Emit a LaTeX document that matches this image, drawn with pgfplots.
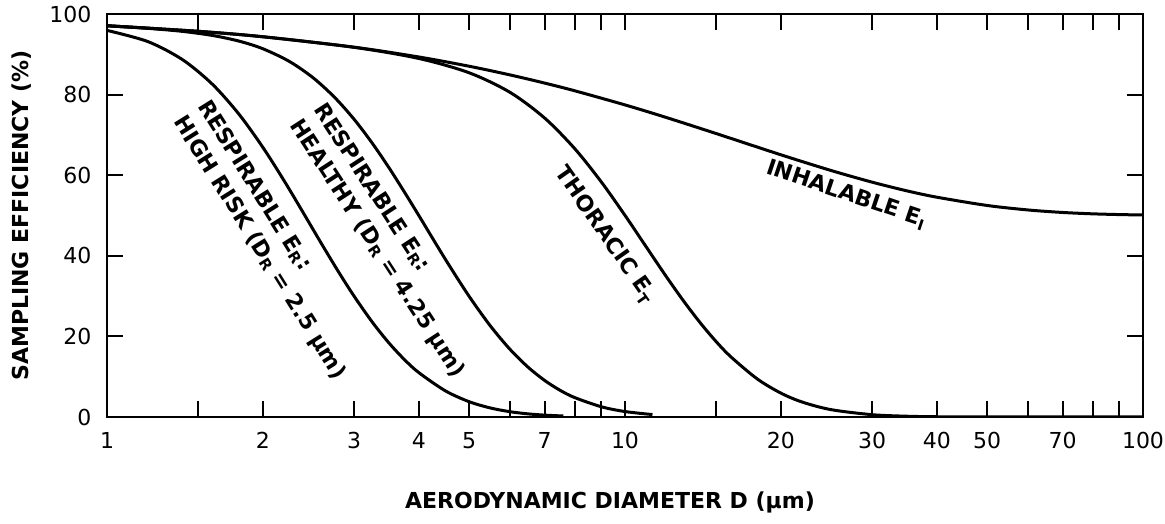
\documentclass[border=0pt]{standalone}
\usepackage{fontspec}
\setmainfont{DejaVu Sans}
\usepackage{pgfplots}
\pgfplotsset{compat=1.18}
\newcommand\subr[1]{\raisebox{-0.2ex}{\fontsize{7.5}{8}\selectfont #1}}
\newcommand\sub[1]{\raisebox{-0.45ex}{\fontsize{7.5}{8}\selectfont #1}}
\begin{document}
\begin{tikzpicture}
\begin{axis}[
  xmode=log, xmin=1, xmax=100, ymin=0, ymax=100,
  width=518pt, height=201.5pt, scale only axis,
  axis line style={line width=1pt},
  tick style={line width=1pt, black},
  major tick length=8pt,
  tick align=inside,
  xtick={1,1.5,2,3,4,5,6,7,8,9,10,15,20,30,40,50,60,70,80,90,100},
  xticklabels={1,,2,3,4,5,,7,,,10,,20,30,40,50,,70,,,100},
  ytick={0,20,40,60,80,100},
  /pgf/number format/assume math mode=true,
  ticklabel style={font=\fontsize{11}{13}\selectfont},
  xticklabel style={yshift=-4.3pt},
  yticklabel style={xshift=-4.3pt},
  label style={font=\bfseries\fontsize{11}{13}\selectfont},
  xlabel={AERODYNAMIC DIAMETER D (µm)},
  ylabel={SAMPLING EFFICIENCY (\%)},
  x label style={at={(axis description cs:0.4855,-0.211)}, anchor=center},
  y label style={at={(axis description cs:-0.082,0.5)}, anchor=center},
]
% Inhalable
\addplot[smooth, line width=1.5pt, black] coordinates {
 (1,97.09) (1.5,95.70) (2,94.35) (3,91.76) (4,89.33) (5,87.04) (6,84.88) (7,82.85)
 (8,80.94) (10,77.44) (12,74.34) (15,70.33) (20,65.06) (25,61.16) (30,58.27)
 (35,56.12) (40,54.54) (50,52.49) (60,51.37) (70,50.75) (80,50.41) (90,50.23) (100,50.12)};
% Thoracic
\addplot[smooth, line width=1.5pt, black] coordinates {
 (1,97.09) (1.5,95.70) (2,94.35) (3,91.73) (4,88.96) (5,85.42) (6,80.55) (7,74.16)
 (8,66.57) (9,58.33) (10,50.03) (11,42.13) (12,34.94) (13,28.63) (14,23.23)
 (15,18.69) (16,14.96) (18,9.45) (20,5.92) (22,3.69) (25,1.82) (30,0.57)
 (35,0.19) (40,0.06) (50,0.01) (70,0) (100,0)};
% Respirable healthy
\addplot[smooth, line width=1.5pt, black] coordinates {
 (1,97.07) (1.2,96.44) (1.4,95.68) (1.6,94.66) (1.8,93.26) (2,91.37) (2.25,88.22)
 (2.5,84.17) (2.75,79.32) (3,73.86) (3.25,67.98) (3.5,61.92) (3.75,55.86) (4,49.98)
 (4.5,39.14) (5,29.97) (5.5,22.56) (6,16.77) (6.5,12.36) (7,9.05) (7.5,6.60)
 (8,4.81) (9,2.54) (10,1.35) (11.3,0.60)};
% Respirable high risk
\addplot[smooth, line width=1.5pt, black] coordinates {
 (1,95.93) (1.2,93.14) (1.4,88.64) (1.6,82.49) (1.8,75.06) (2,66.89) (2.2,58.52)
 (2.4,50.39) (2.6,42.81) (2.8,35.98) (3,29.96) (3.25,23.59) (3.5,18.41) (3.75,14.27)
 (4,11.00) (4.5,6.49) (5,3.80) (5.5,2.23) (6,1.31) (6.5,0.77) (7,0.46) (7.6,0.25)};
\node[rotate=-58, align=left, font=\bfseries\fontsize{11}{14.25}\selectfont, inner sep=0pt]
  at (axis cs:2.076,43.8) {RESPIRABLE E\subr{R}:\\HIGH RISK (D\subr{R} = 2.5 µm)};
\node[rotate=-57, align=left, font=\bfseries\fontsize{11}{14.25}\selectfont, inner sep=0pt]
  at (axis cs:3.50,43.6) {RESPIRABLE E\subr{R}:\\HEALTHY (D\subr{R} = 4.25 µm)};
\node[rotate=-55, font=\bfseries\fontsize{11}{13}\selectfont, inner sep=0pt]
  at (axis cs:9.14,45.2) {THORACIC E\sub{T}};
\node[rotate=-18.6, font=\bfseries\fontsize{11}{13}\selectfont, inner sep=0pt]
  at (axis cs:26.7,55.1) {INHALABLE E\sub{I}};
\coordinate (bl) at (rel axis cs:0,0);
\coordinate (tr) at (rel axis cs:1,1);
\end{axis}
\pgfresetboundingbox
\path[use as bounding box] ([shift={(-53.5pt,-53.5pt)}]bl) rectangle ([shift={(11pt,7pt)}]tr);
\end{tikzpicture}
\end{document}
